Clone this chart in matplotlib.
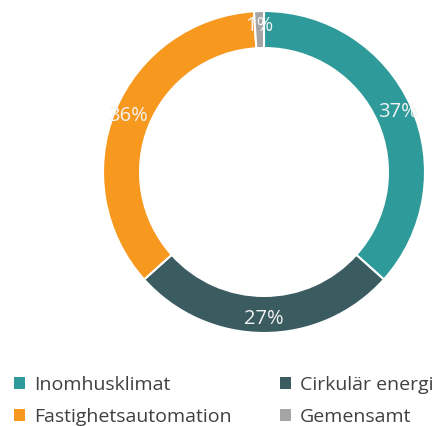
import matplotlib.pyplot as plt
from matplotlib.patches import Patch

categories = ['Inomhusklimat', 'Cirkulär energi', 'Fastighetsautomation', 'Gemensamt']
shares = [37, 27, 36, 1]
colors = ['#2E9A9A', '#3A5C60', '#F7981F', '#A5A5A5']

plt.rcParams['font.family'] = ['Open Sans', 'DejaVu Sans']

fig = plt.figure(figsize=(4.46, 4.26), dpi=100)
ax = fig.add_axes([103 / 446, 93 / 426, 322 / 446, 322 / 426])

wedges, texts, autotexts = ax.pie(
    shares, colors=colors, startangle=90, counterclock=False,
    autopct='%.0f%%', pctdistance=0.91, radius=1.0,
    wedgeprops=dict(width=0.23, edgecolor='white', linewidth=1.5),
    textprops=dict(color='#F2F2F2', fontsize=14.5),
)
ax.set_xlim(-1, 1)
ax.set_ylim(-1, 1)
ax.set_aspect('equal')
ax.axis('off')

# legend rows: Inomhusklimat / Cirkulär energi, Fastighetsautomation / Gemensamt
order = [0, 2, 1, 3]
handles = [Patch(facecolor=colors[i], edgecolor='none') for i in order]
labels = [categories[i] for i in order]
fig.legend(handles, labels, ncol=2, loc='lower left', bbox_to_anchor=(-0.007, -0.04),
           frameon=False, fontsize=14, labelcolor='#404040',
           handlelength=0.55, handleheight=0.55, handletextpad=0.45,
           columnspacing=2.5, labelspacing=0.72)

fig.savefig('out.png', dpi=100)
